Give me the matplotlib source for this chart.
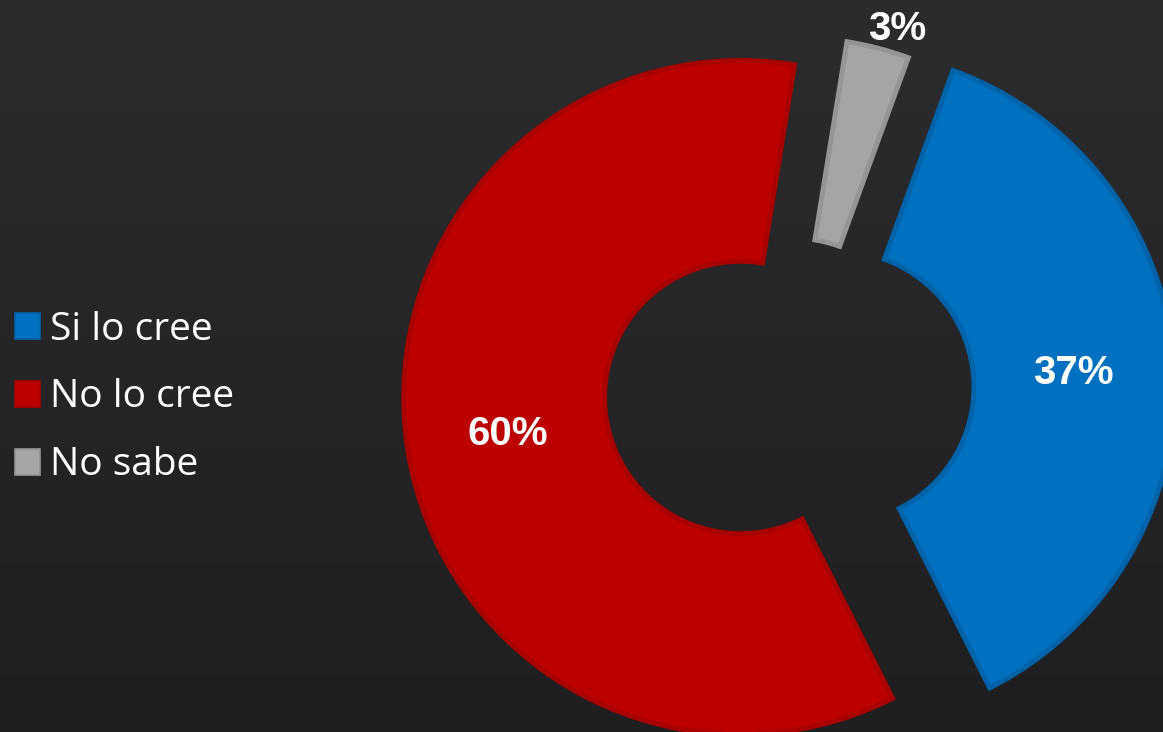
import numpy as np
import matplotlib.pyplot as plt
from matplotlib.colors import LinearSegmentedColormap

categories = ["Si lo cree", "No lo cree", "No sabe"]
values = [37, 60, 3]
colors = ["#0070C0", "#BC0000", "#A5A5A5"]
edge_colors = ["#0063AA", "#A90000", "#959595"]
explode = [0.145, 0.145, 0.048]

fig = plt.figure(figsize=(11.63, 7.32), dpi=100)

# fondo oscuro con un leve degradado
bg = fig.add_axes([0, 0, 1, 1])
grad = np.linspace(0, 1, 256).reshape(-1, 1)
cmap = LinearSegmentedColormap.from_list("bg", ["#2c2c2e", "#1f1f21"])
bg.imshow(grad, aspect="auto", cmap=cmap, extent=[0, 1, 0, 1])
bg.axis("off")

ax = fig.add_axes([0, 0, 1, 1])
ax.patch.set_alpha(0)

wedges, texts, autotexts = ax.pie(
    values,
    colors=colors,
    explode=explode,
    startangle=70,
    counterclock=False,
    radius=1,
    autopct="%.0f%%",
    pctdistance=0.70,
    wedgeprops=dict(width=0.596, linewidth=3.5),
    textprops=dict(color="white", fontsize=29, fontweight="bold",
                   family="Liberation Sans"),
)
for w, ec in zip(wedges, edge_colors):
    w.set_edgecolor(ec)

# etiqueta de "No sabe" fuera del anillo
w = wedges[2]
tm = np.deg2rad((w.theta1 + w.theta2) / 2 - 2)
cx, cy = w.center
autotexts[2].set_position((cx + 1.08 * np.cos(tm), cy + 1.07 * np.sin(tm)))

ax.set_xlim(-789 / 337, (1163 - 789) / 337)
ax.set_ylim(-342 / 337, 390 / 337)
ax.set_aspect("equal")
ax.axis("off")

leg = ax.legend(
    wedges, categories,
    loc="center left", bbox_to_anchor=(0.013, 0.457),
    frameon=False, labelcolor="white",
    prop=dict(family="Open Sans", size=28),
    handlelength=0.64, handleheight=0.64, handletextpad=0.25,
    labelspacing=0.77, borderpad=0, borderaxespad=0,
)
for h in leg.legend_handles:
    h.set_linewidth(1.2)

fig.savefig("out.png", dpi=100)
